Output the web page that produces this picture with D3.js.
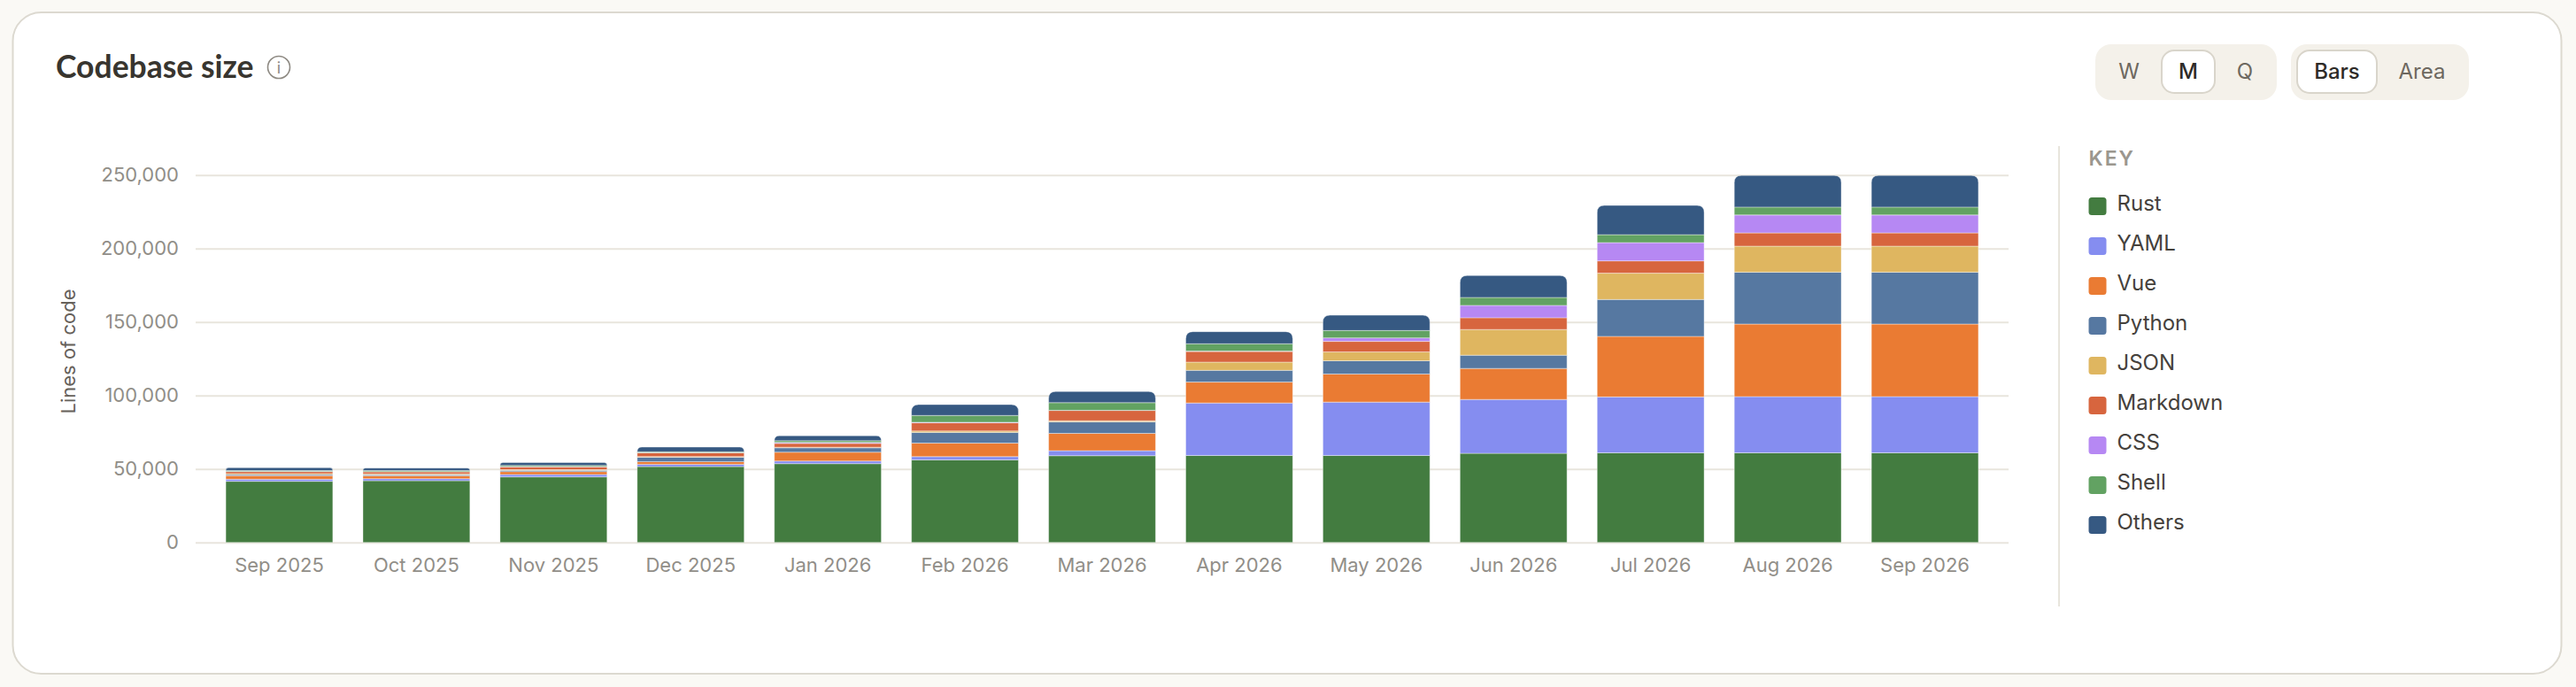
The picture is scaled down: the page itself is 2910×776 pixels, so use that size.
<!DOCTYPE html>
<html>
<head>
<meta charset="utf-8">
<title>Codebase size</title>
<script src="https://cdn.jsdelivr.net/npm/d3@7"></script>
<style>
	html, body { margin: 0; padding: 0; background: #faf9f5; }
	svg { display: block; }
	text { font-family: Inter, sans-serif; }
</style>
</head>
<body>
<div id="chart"></div>
<script>
const months = ["Sep 2025", "Oct 2025", "Nov 2025", "Dec 2025", "Jan 2026", "Feb 2026", "Mar 2026", "Apr 2026", "May 2026", "Jun 2026", "Jul 2026", "Aug 2026", "Sep 2026"];
const languages = ["Rust", "YAML", "Vue", "Python", "JSON", "Markdown", "CSS", "Shell", "Others"];
const colours = ["#437c40", "#858df0", "#ea7b33", "#5678a1", "#dfb660", "#d7653e", "#b688f3", "#62a262", "#365982"];

const rust = [41600, 42000, 44600, 51600, 53600, 56200, 59000, 59200, 59200, 60600, 61000, 61000, 61000];
const yaml = [1400, 1400, 1600, 1600, 1800, 2200, 3400, 35700, 36300, 36700, 38000, 38200, 38200];
const vue = [2400, 1900, 2000, 1800, 6000, 9200, 11800, 14200, 19100, 21100, 41200, 49400, 49400];
const python = [800, 800, 800, 3000, 3000, 7200, 7800, 8000, 9000, 9000, 25100, 35300, 35300];
const json = [600, 500, 500, 400, 400, 1000, 800, 5600, 6000, 17500, 17900, 17700, 17700];
const markdown = [1400, 1500, 2000, 2600, 2600, 5600, 7000, 7200, 7200, 8000, 8400, 9000, 9000];
const css = [100, 100, 100, 100, 600, 400, 100, 300, 2400, 8400, 12400, 12200, 12200];
const shell = [600, 700, 800, 600, 1200, 4600, 5200, 5000, 5000, 5400, 5400, 5400, 5400];
const others = [1900, 1700, 2000, 3200, 3400, 7400, 7600, 8200, 10400, 14900, 19900, 21500, 21500];

const y_ticks = [0, 50000, 100000, 150000, 200000, 250000];

const series_values = [rust, yaml, vue, python, json, markdown, css, shell, others];
const table = months.map((month, i) => {
	const row = { month: month };
	languages.forEach((lang, j) => (row[lang] = series_values[j][i]));
	return row;
});

const width = 2910,
	height = 776,
	plot = { left: 221, right: 2269, top: 197.7, bottom: 612.7 };

const svg = d3
	.select("#chart")
	.append("svg")
	.attr("width", width)
	.attr("height", height);

// card
svg
	.append("rect")
	.attr("x", 14.5)
	.attr("y", 14)
	.attr("width", 2879)
	.attr("height", 747)
	.attr("rx", 32)
	.attr("fill", "#fff")
	.attr("stroke", "#dcd9d0")
	.attr("stroke-width", 2);

// title and info icon
svg
	.append("text")
	.attr("x", 63)
	.attr("y", 88)
	.attr("font-size", 35.5)
	.attr("fill", "#38352f")
	.style("font-family", "Lato, sans-serif")
	.style("font-weight", 700)
	.text("Codebase size");

const info = svg.append("g").attr("transform", "translate(315,76)");
info
	.append("circle")
	.attr("r", 12.5)
	.attr("fill", "none")
	.attr("stroke", "#8e8a83")
	.attr("stroke-width", 1.6);
info
	.append("text")
	.attr("text-anchor", "middle")
	.attr("y", 7)
	.attr("font-size", 18)
	.attr("fill", "#8e8a83")
	.text("i");

// scales
const x = d3
	.scaleBand()
	.domain(months)
	.range([plot.left, plot.right])
	.padding(0.22);

const y = d3
	.scaleLinear()
	.domain([0, 250000])
	.range([plot.bottom, plot.top]);

const color = d3.scaleOrdinal().domain(languages).range(colours);

// y axis + grid
const y_axis = svg
	.append("g")
	.attr("transform", `translate(${plot.left},0)`)
	.call(
		d3
			.axisLeft(y)
			.tickValues(y_ticks)
			.tickFormat(d3.format(","))
			.tickSize(-(plot.right - plot.left))
			.tickPadding(19)
	);
y_axis.select(".domain").remove();
y_axis.selectAll("line").attr("stroke", "#e8e5dd").attr("stroke-width", 2);
y_axis.selectAll("text").attr("font-size", 22).attr("fill", "#918e88");

// x axis
const x_axis = svg
	.append("g")
	.attr("transform", `translate(0,${plot.bottom})`)
	.call(d3.axisBottom(x).tickSize(0).tickPadding(18));
x_axis.select(".domain").remove();
x_axis.selectAll("text").attr("font-size", 22).attr("fill", "#918e88");

svg
	.append("text")
	.attr("text-anchor", "middle")
	.attr("transform", "translate(85,397) rotate(-90)")
	.attr("font-size", 22)
	.attr("fill", "#66615a")
	.text("Lines of code");

// stacked bars, only the last segment gets the rounded top
const stacked = d3.stack().keys(languages)(table);

function segment(d, rounded) {
	const x0 = x(d.data.month),
		x1 = x0 + x.bandwidth(),
		top = y(d[1]),
		bottom = y(d[0]),
		r = rounded ? Math.min(8, bottom - top) : 0;
	return `M${x0},${bottom}V${top + r}Q${x0},${top} ${x0 + r},${top}H${x1 - r}Q${x1},${top} ${x1},${top + r}V${bottom}Z`;
}

svg
	.append("g")
	.selectAll("g")
	.data(stacked)
	.join("g")
	.attr("fill", (d) => color(d.key))
	.selectAll("path")
	.data((d) => d.map((v) => ({ v: v, rounded: d.key === "Others" })))
	.join("path")
	.attr("d", (d) => segment(d.v, d.rounded))
	.attr("stroke", "#fff")
	.attr("stroke-opacity", 0.4)
	.attr("stroke-width", 1);

// legend
const legend_x = 2359.5;
svg
	.append("line")
	.attr("x1", 2326)
	.attr("x2", 2326)
	.attr("y1", 165)
	.attr("y2", 685)
	.attr("stroke", "#e8e5dd")
	.attr("stroke-width", 2);

svg
	.append("text")
	.attr("x", legend_x)
	.attr("y", 187)
	.attr("font-size", 23)
	.attr("fill", "#9b978f")
	.style("font-weight", 600)
	.style("letter-spacing", "2px")
	.text("KEY");

const legend_row = svg
	.append("g")
	.selectAll("g")
	.data(languages)
	.join("g")
	.attr("transform", (d, i) => `translate(${legend_x},${233 + i * 45})`);

legend_row
	.append("rect")
	.attr("y", -10)
	.attr("width", 20)
	.attr("height", 20)
	.attr("rx", 3.5)
	.attr("fill", (d) => color(d));

legend_row
	.append("text")
	.attr("x", 32)
	.attr("y", 5)
	.attr("font-size", 24)
	.attr("fill", "#45413c")
	.text((d) => d);

// toggle buttons
function add_toggle(box, items) {
	svg
		.append("rect")
		.attr("x", box.x)
		.attr("y", 50)
		.attr("width", box.w)
		.attr("height", 63)
		.attr("rx", 18)
		.attr("fill", "#f4f1ea");
	items.forEach((item) => {
		if (item.on) {
			svg
				.append("rect")
				.attr("x", item.x0)
				.attr("y", 57)
				.attr("width", item.x1 - item.x0)
				.attr("height", 48)
				.attr("rx", 14)
				.attr("fill", "#fff")
				.attr("stroke", "#d9d5cb")
				.attr("stroke-width", 2);
		}
		svg
			.append("text")
			.attr("x", item.cx)
			.attr("y", 89)
			.attr("text-anchor", "middle")
			.attr("font-size", 24)
			.attr("fill", item.on ? "#2e2b28" : "#6d6860")
			.style("font-weight", item.on ? 500 : 400)
			.text(item.label);
	});
}

add_toggle({ x: 2367, w: 205 }, [
	{ label: "W", cx: 2405 },
	{ label: "M", cx: 2472, on: true, x0: 2442, x1: 2502 },
	{ label: "Q", cx: 2536 },
]);
add_toggle({ x: 2588, w: 201 }, [
	{ label: "Bars", cx: 2640, on: true, x0: 2595, x1: 2685 },
	{ label: "Area", cx: 2736 },
]);
</script>
</body>
</html>
